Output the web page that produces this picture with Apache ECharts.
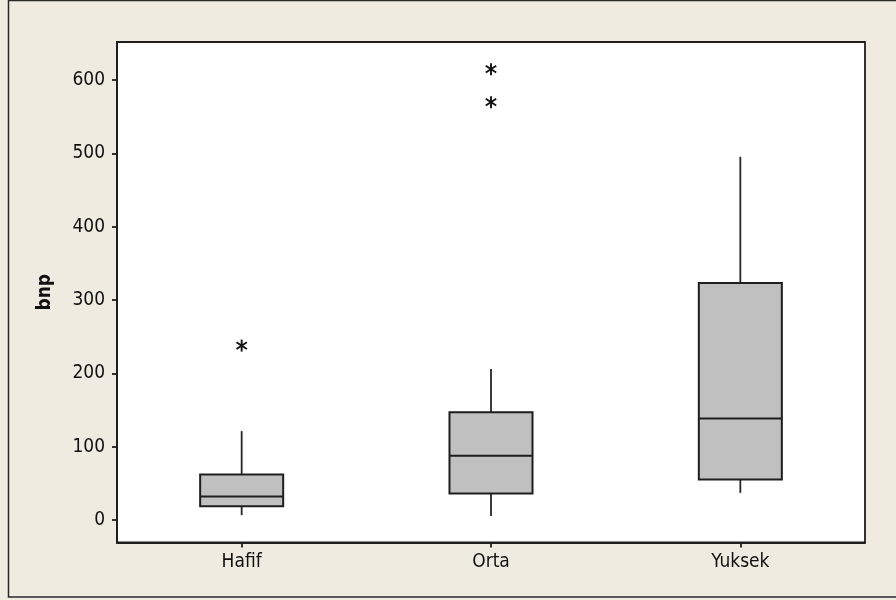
<!DOCTYPE html>
<html>
<head>
<meta charset="utf-8">
<title>bnp</title>
<script src="https://cdn.jsdelivr.net/npm/echarts@6/dist/echarts.min.js"></script>
<style>
  html, body { margin: 0; padding: 0; background: #efebe1; }
  #chart { width: 896px; height: 600px; }
</style>
</head>
<body>
<div id="chart"></div>
<script>
// Groups on the horizontal axis
const categories = ['Hafif', 'Orta', 'Yuksek'];

// Five-number summaries per group: [lower whisker, Q1, median, Q3, upper whisker]
const hafifBox  = [6.8, 19.1, 32.3, 62.3, 121.4];
const ortaBox   = [5.5, 36.4, 87.7, 147.0, 206.0];
const yuksekBox = [37.2, 55.5, 138.6, 323.2, 495.5];

// Outliers per group
const hafifOutliers  = [238];
const ortaOutliers   = [570, 615];
const yuksekOutliers = [];

// Value-axis tick labels
const yTicks = [0, 100, 200, 300, 400, 500, 600];

const boxes = [hafifBox, ortaBox, yuksekBox];
const outliers = [hafifOutliers, ortaOutliers, yuksekOutliers];

const boxData = boxes.map((b, i) => [i].concat(b));
const outlierData = [];
outliers.forEach((list, i) => list.forEach(v => outlierData.push([i, v])));

const INK = '#1e1e1e';
const FONT = '"DejaVu Sans Condensed", "DejaVu Sans", sans-serif';

// Minitab-style box: filled body, median bar, plain whiskers without caps
function renderBox(params, api) {
  const idx = api.value(0);
  const lo = api.coord([idx, api.value(1)]);
  const q1 = api.coord([idx, api.value(2)]);
  const md = api.coord([idx, api.value(3)]);
  const q3 = api.coord([idx, api.value(4)]);
  const hi = api.coord([idx, api.value(5)]);
  const w = api.size([1, 0])[0] * 0.333;
  const x = q1[0];
  const whisker = { stroke: '#262626', lineWidth: 1.8 };
  return {
    type: 'group',
    children: [
      { type: 'line', shape: { x1: x, y1: q3[1], x2: x, y2: hi[1] }, style: whisker },
      { type: 'line', shape: { x1: x, y1: q1[1], x2: x, y2: lo[1] }, style: whisker },
      { type: 'rect', shape: { x: x - w / 2, y: q3[1], width: w, height: q1[1] - q3[1] },
        style: { fill: '#c0c0c0', stroke: INK, lineWidth: 2 } },
      { type: 'line', shape: { x1: x - w / 2, y1: md[1], x2: x + w / 2, y2: md[1] },
        style: { stroke: INK, lineWidth: 2 } }
    ]
  };
}

// Asterisk marker for outliers
function renderStar(params, api) {
  const p = api.coord([api.value(0), api.value(1)]);
  const st = { stroke: '#111', lineWidth: 1.9 };
  const r = 6, dx = 5.2, dy = 3.4;
  return {
    type: 'group',
    children: [
      { type: 'line', shape: { x1: p[0], y1: p[1] - r, x2: p[0], y2: p[1] + r }, style: st },
      { type: 'line', shape: { x1: p[0] - dx, y1: p[1] - dy, x2: p[0] + dx, y2: p[1] + dy }, style: st },
      { type: 'line', shape: { x1: p[0] - dx, y1: p[1] + dy, x2: p[0] + dx, y2: p[1] - dy }, style: st }
    ]
  };
}

const chart = echarts.init(document.getElementById('chart'), null, { renderer: 'canvas' });

chart.setOption({
  backgroundColor: '#efebe1',
  animation: false,
  textStyle: { fontFamily: FONT },
  graphic: [{
    type: 'rect',
    silent: true,
    z: -10,
    shape: { x: 8.5, y: 0.5, width: 900, height: 596.5 },
    style: { fill: 'none', stroke: '#2a2a2a', lineWidth: 1.5 }
  }],
  grid: {
    left: 117, right: 31, top: 42, bottom: 57.5,
    show: true, backgroundColor: '#ffffff', borderColor: INK, borderWidth: 1.8
  },
  xAxis: {
    type: 'category',
    data: categories,
    boundaryGap: true,
    axisLine: { show: true, onZero: false, lineStyle: { color: INK, width: 1.8 } },
    axisTick: { show: true, alignWithLabel: true, length: 5, lineStyle: { color: INK, width: 1.8 } },
    axisLabel: { color: '#111', fontSize: 19, fontFamily: FONT, margin: 10 },
    splitLine: { show: false }
  },
  yAxis: {
    type: 'value',
    min: -30.5,
    max: 652,
    name: 'bnp',
    nameLocation: 'middle',
    nameRotate: 90,
    nameGap: 62,
    nameTextStyle: { color: '#111', fontSize: 19, fontWeight: 'bold', fontFamily: FONT },
    axisLine: { show: true, onZero: false, lineStyle: { color: INK, width: 1.8 } },
    axisTick: { show: true, length: 5, customValues: yTicks, lineStyle: { color: INK, width: 1.8 } },
    axisLabel: { color: '#111', fontSize: 19, fontFamily: FONT, margin: 12, customValues: yTicks },
    splitLine: { show: false }
  },
  series: [
    {
      type: 'custom',
      name: 'bnp',
      renderItem: renderBox,
      encode: { x: 0, y: [1, 2, 3, 4, 5] },
      data: boxData
    },
    {
      type: 'custom',
      name: 'outliers',
      renderItem: renderStar,
      encode: { x: 0, y: 1 },
      data: outlierData
    }
  ]
});
</script>
</body>
</html>
